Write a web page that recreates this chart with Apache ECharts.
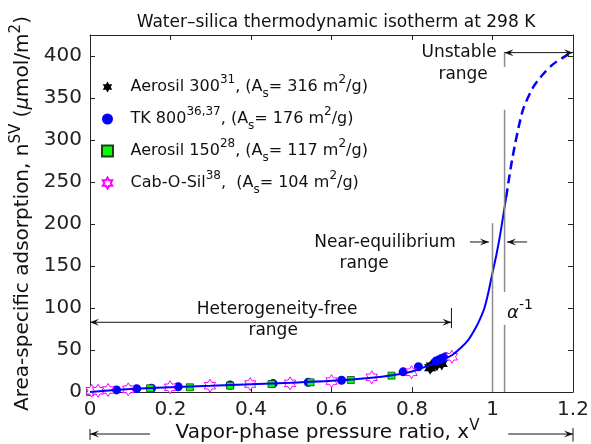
<!DOCTYPE html>
<html>
<head>
<meta charset="utf-8">
<script src="https://cdn.jsdelivr.net/npm/echarts@6/dist/echarts.min.js"></script>
<style>
  html, body { margin: 0; background: #fff; }
  #chart { width: 591px; height: 444px; }
</style>
</head>
<body>
<div id="chart"></div>
<script>
// isotherm curve, stable (solid) part and unstable (dashed) part
const curveStable = [
  [0, 0], [0.1, 3.5], [0.2, 5.8], [0.3, 7.5], [0.4, 9.3], [0.5, 11], [0.6, 13.3],
  [0.7, 17], [0.75, 20], [0.8, 24.5], [0.85, 33], [0.88, 39], [0.9, 44], [0.92, 52],
  [0.94, 62], [0.96, 78], [0.97, 88], [0.98, 100], [0.99, 119], [1.0, 142],
  [1.01, 164], [1.02, 190], [1.034, 232]
]
const curveUnstable = [
  [1.034, 232], [1.05, 280], [1.075, 335], [1.1, 362], [1.125, 378], [1.15, 390], [1.175, 398], [1.2, 405]
]

// measured points
const aerosil300 = [[0.845, 29], [0.849, 31], [0.862, 33], [0.874, 34]]
const tk800 = [
  [0.066, 2.5], [0.095, 3.3], [0.116, 4], [0.153, 4.5], [0.219, 6.2], [0.348, 8.3],
  [0.455, 10], [0.542, 11.5], [0.625, 14], [0.778, 24], [0.816, 30], [0.86, 37],
  [0.866, 38], [0.872, 39.5], [0.878, 40.5], [0.884, 42]
]
const aerosil150 = [[0, 0], [0.149, 4.4], [0.248, 5.6], [0.348, 7.5], [0.451, 9.5], [0.548, 11.5], [0.648, 14.3], [0.749, 19.5]]
const cabOSil = [
  [0.004, 1.5], [0.02, 1.5], [0.045, 2.4], [0.095, 3.2], [0.199, 5.6], [0.298, 7.5],
  [0.398, 9.5], [0.497, 10.3], [0.6, 13], [0.7, 17.5], [0.799, 23.5], [0.899, 42]
]

const seriesNames = ['Aerosil 300', 'TK 800', 'Aerosil 150', 'Cab-O-Sil']
const legendLabels = [
  '{n|Aerosil 300}{sup|31}{n|, (A}{sub|s}{n|= 316 m}{sup|2}{n|/g)}',
  '{n|TK 800}{sup|36,37}{n|, (A}{sub|s}{n|= 176 m}{sup|2}{n|/g)}',
  '{n|Aerosil 150}{sup|28}{n|, (A}{sub|s}{n|= 117 m}{sup|2}{n|/g)}',
  '{n|Cab-O-Sil}{sup|38}{n|,  (A}{sub|s}{n|= 104 m}{sup|2}{n|/g)}'
]

const FONT = 'DejaVu Sans'
const ink = '#262626'

// six-pointed star marker
const hexagram = (() => {
  const pts = []
  for (let k = 0; k < 12; k++) {
    const r = k % 2 ? 0.577 : 1
    const a = (k * 30 - 90) * Math.PI / 180
    pts.push((r * Math.cos(a) * 10).toFixed(2) + ' ' + (r * Math.sin(a) * 10).toFixed(2))
  }
  return 'path://M' + pts.join(' L') + ' Z'
})()
const square = 'path://M0 0 L10 0 L10 10 L0 10 Z'

const chart = echarts.init(document.getElementById('chart'))

const axisCommon = {
  type: 'value',
  axisLine: { show: true, onZero: false, lineStyle: { color: ink, width: 1 } },
  axisTick: { show: true, inside: true, length: 5, lineStyle: { color: ink } },
  splitLine: { show: false }
}

chart.setOption({
  animation: false,
  textStyle: { fontFamily: FONT },
  title: {
    text: 'Water–silica thermodynamic isotherm at 298 K',
    left: 331, top: 9, textAlign: 'center',
    textStyle: { fontFamily: FONT, fontSize: 17, fontWeight: 'normal', color: '#111' }
  },
  grid: { left: 90, right: 18, top: 35, bottom: 52, outerBoundsMode: 'none' },
  legend: {
    data: seriesNames,
    orient: 'vertical',
    left: 101, top: 74,
    padding: 0,
    itemWidth: 36, itemHeight: 11, itemGap: 6,
    selectedMode: false,
    symbolKeepAspect: true,
    formatter: name => legendLabels[seriesNames.indexOf(name)],
    textStyle: {
      color: '#111',
      rich: {
        n: { fontFamily: FONT, fontSize: 16, lineHeight: 26, color: '#111' },
        sup: { fontFamily: FONT, fontSize: 12, lineHeight: 13, verticalAlign: 'top', color: '#111' },
        sub: { fontFamily: FONT, fontSize: 12, lineHeight: 12, verticalAlign: 'bottom', color: '#111' }
      }
    }
  },
  xAxis: [
    {
      ...axisCommon, min: 0, max: 1.2, interval: 0.2, position: 'bottom',
      axisLabel: { color: '#222', fontSize: 20, margin: 8 },
      name: '{n|Vapor-phase pressure ratio, x}{sup|V}',
      nameLocation: 'middle', nameGap: 27, nameMoveOverlap: false,
      nameTextStyle: {
        padding: [0, 8, 0, 0],
        rich: {
          n: { fontFamily: FONT, fontSize: 20, lineHeight: 28, color: '#111' },
          sup: { fontFamily: FONT, fontSize: 15, lineHeight: 10, verticalAlign: 'top', color: '#111' }
        }
      }
    },
    { ...axisCommon, min: 0, max: 1.2, interval: 0.2, position: 'top', axisLabel: { show: false } }
  ],
  yAxis: [
    {
      ...axisCommon, min: 0, max: 425, interval: 50, position: 'left',
      axisLabel: { color: '#222', fontSize: 20, margin: 8, showMaxLabel: false },
      name: '{n|Area-specific adsorption, n}{sup|SV}{n| (}{mu|μ}{n|mol/m}{sup|2}{n|)}',
      nameLocation: 'middle', nameGap: 48,
      nameTextStyle: {
        rich: {
          n: { fontFamily: FONT, fontSize: 20, lineHeight: 28, color: '#111' },
          mu: { fontFamily: FONT, fontSize: 20, lineHeight: 28, fontStyle: 'italic', color: '#111' },
          sup: { fontFamily: FONT, fontSize: 15, lineHeight: 10, verticalAlign: 'top', color: '#111' }
        }
      }
    },
    { ...axisCommon, min: 0, max: 425, interval: 50, position: 'right', axisLabel: { show: false } }
  ],
  series: [
    {
      type: 'line', data: curveStable, symbol: 'none', silent: true,
      smooth: 0.25,
      lineStyle: { color: '#0000ff', width: 2 }
    },
    {
      type: 'line', data: curveUnstable, symbol: 'none', silent: true,
      smooth: 0.25,
      lineStyle: { color: '#0000ff', width: 2.5, type: [9, 5] }
    },
    {
      name: 'Aerosil 300', type: 'scatter', data: aerosil300,
      symbol: hexagram, symbolSize: 14, symbolKeepAspect: true,
      itemStyle: { color: '#000', opacity: 1 }
    },
    {
      name: 'TK 800', type: 'scatter', data: tk800,
      symbol: 'circle', symbolSize: 9, symbolKeepAspect: true,
      itemStyle: { color: '#0000ff', opacity: 1 }
    },
    {
      name: 'Aerosil 150', type: 'scatter', data: aerosil150,
      symbol: square, symbolSize: 7, symbolKeepAspect: true,
      itemStyle: { color: '#00ff00', borderColor: '#1f3d1f', borderWidth: 0.8, opacity: 1 }
    },
    {
      name: 'Cab-O-Sil', type: 'scatter', data: cabOSil,
      symbol: hexagram, symbolSize: 13, symbolKeepAspect: true,
      itemStyle: { color: '#ffffff', borderColor: '#ff00ff', borderWidth: 1, opacity: 1 }
    }
  ]
})

// annotations placed in data coordinates
const P = (x, y) => chart.convertToPixel({ xAxisIndex: 0, yAxisIndex: 0 }, [x, y])
const gfx = []
const gray = '#8c8c8c'

const seg = (a, b, color, w) => {
  const p = P(a[0], a[1]), q = P(b[0], b[1])
  gfx.push({ type: 'line', z: 50, shape: { x1: p[0], y1: p[1], x2: q[0], y2: q[1] }, style: { stroke: color, lineWidth: w } })
}
const head = (tip, from) => {
  const t = P(tip[0], tip[1]), f = P(from[0], from[1])
  const dx = t[0] - f[0], dy = t[1] - f[1], len = Math.hypot(dx, dy)
  const ux = dx / len, uy = dy / len, nx = -uy, ny = ux
  const L = 9, W = 3.5
  gfx.push({
    type: 'polygon', z: 51,
    shape: { points: [
      [t[0], t[1]],
      [t[0] - L * ux + W * nx, t[1] - L * uy + W * ny],
      [t[0] - 0.6 * L * ux, t[1] - 0.6 * L * uy],
      [t[0] - L * ux - W * nx, t[1] - L * uy - W * ny]
    ] },
    style: { fill: '#111' }
  })
}
const arrow = (from, to) => { seg(from, to, '#111', 1); head(to, from) }
const label = (x, y, text, size, extra) => {
  const p = P(x, y)
  gfx.push({
    type: 'text', z: 52, x: p[0], y: p[1],
    style: Object.assign({ text, fill: '#111', font: size + 'px "' + FONT + '"', align: 'center', verticalAlign: 'middle' }, extra || {})
  })
}

// gray guide lines
seg([1, 0], [1, 201], gray, 1.5)
seg([1.03, 0], [1.03, 80], gray, 1.5)
seg([1.03, 119], [1.03, 336], gray, 1.5)
seg([1.03, 387], [1.03, 405], gray, 1.5)

// unstable range
seg([1.03, 404], [1.2, 404], '#111', 1)
head([1.03, 404], [1.2, 404])
head([1.2, 404], [1.03, 404])
label(0.917, 404, 'Unstable', 17)
label(0.927, 378, 'range', 17)

// near-equilibrium range
arrow([0.944, 178.6], [0.991, 178.6])
arrow([1.086, 178.6], [1.036, 178.6])
label(0.733, 178, 'Near-equilibrium', 17)
label(0.681, 153, 'range', 17)

// heterogeneity-free range
seg([0, 83], [0.898, 83], '#111', 1)
head([0, 83], [0.898, 83])
head([0.898, 83], [0, 83])
seg([0.898, 76], [0.898, 100], '#111', 1)
label(0.465, 98, 'Heterogeneity-free', 17)
label(0.455, 73, 'range', 17)

// alpha^-1
label(1.036, 94, 'α', 18, { align: 'left', font: 'italic 18px "' + FONT + '"' })
label(1.066, 103, '-1', 14, { align: 'left' })

// x-axis range arrows
seg([0, -44], [0, -57], '#111', 1)
arrow([0.149, -50], [0, -50])
arrow([1.039, -50], [1.2, -50])
seg([1.2, -43], [1.2, -59], '#111', 1)

chart.setOption({ graphic: gfx })
</script>
</body>
</html>
